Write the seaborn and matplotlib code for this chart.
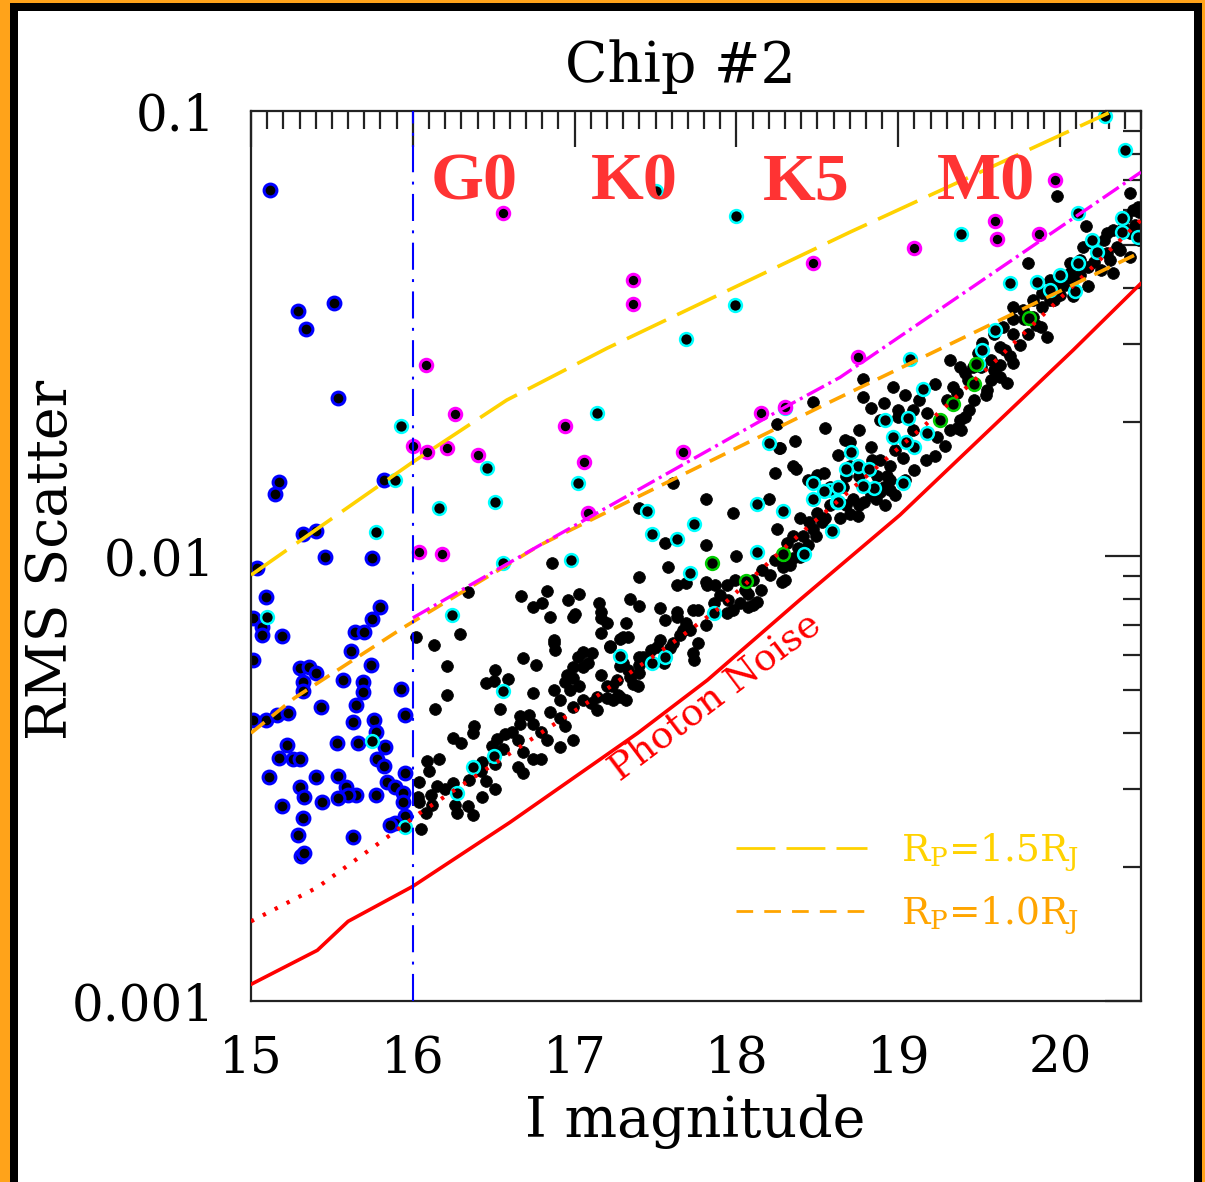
import numpy as np
import pandas as pd
import matplotlib
matplotlib.use("Agg")
import matplotlib.pyplot as plt
import seaborn as sns
from matplotlib.patches import Rectangle
from matplotlib.lines import Line2D
from matplotlib.ticker import FixedLocator, NullFormatter, LogLocator, MultipleLocator

# ---------------- data ----------------
# Blue points (bright stars, I < 16)
blue_mag = [15.12, 15.17, 15.15, 15.29, 15.34, 15.51, 15.54, 15.32, 15.40, 15.46, 15.75, 15.04, 15.09,
            15.01, 15.07, 15.07, 15.19, 15.80, 15.75, 15.64, 15.70, 15.62, 15.74, 15.01, 15.30, 15.36,
            15.40, 15.32, 15.32, 15.57, 15.69, 15.69, 15.93, 15.82, 15.01, 15.09, 15.16, 15.23, 15.43,
            15.65, 15.63, 15.76, 15.77, 15.95, 15.22, 15.53, 15.66, 15.83, 15.17, 15.26, 15.30, 15.78,
            15.82, 15.11, 15.40, 15.54, 15.59, 15.65, 15.60, 15.30, 15.33, 15.44, 15.54, 15.77, 15.84,
            15.89, 15.95, 15.94, 15.94, 15.19, 15.32, 15.95, 15.89, 15.86, 15.29, 15.63, 15.31, 15.33]
blue_rms = [0.0665, 0.0147, 0.0138, 0.0356, 0.0324, 0.0371, 0.0227, 0.0112, 0.0114, 0.00996, 0.00990,
            0.00942, 0.00809, 0.00726, 0.00694, 0.00665, 0.00662, 0.00768, 0.00723, 0.00676, 0.00676,
            0.00612, 0.00569, 0.00584, 0.00561, 0.00564, 0.00547, 0.00522, 0.00497, 0.00527, 0.00522,
            0.00495, 0.00502, 0.0148, 0.00429, 0.00429, 0.00440, 0.00444, 0.00458, 0.00462, 0.00423,
            0.00429, 0.00403, 0.00440, 0.00376, 0.00380, 0.00380, 0.00372, 0.00352, 0.00349, 0.00349,
            0.00349, 0.00337, 0.00318, 0.00318, 0.00320, 0.00302, 0.00290, 0.00290, 0.00302, 0.00288,
            0.00280, 0.00286, 0.00290, 0.00311, 0.00302, 0.00326, 0.00293, 0.00280, 0.00274, 0.00258,
            0.00261, 0.00251, 0.00249, 0.00236, 0.00234, 0.00212, 0.00215]

# Black points (I > 16)
black_mag = [16.34, 16.67, 16.74, 16.02, 16.13, 16.29, 16.68, 16.76, 16.21, 16.51, 16.59, 16.45, 16.50,
             16.74, 16.04, 16.03, 16.04, 16.05, 16.09, 16.16, 16.10, 16.15, 16.12, 16.25, 16.30, 16.37,
             16.38, 16.49, 16.52, 16.56, 16.43, 16.25, 16.26, 16.27, 16.34, 16.37, 16.43, 16.51, 16.45,
             16.54, 16.66, 16.74, 16.61, 16.65, 16.68, 16.74, 16.68, 16.65, 16.14, 16.21,
             18.47, 18.55, 18.25, 18.26, 18.36, 17.40, 17.81, 17.98, 17.61, 18.24, 18.37, 17.56, 17.81,
             16.86, 18.00, 18.20, 18.25, 18.39, 18.44, 18.50, 18.54, 18.58, 17.99, 17.94, 17.40, 17.58,
             17.63, 17.69, 17.81, 17.82, 17.87, 17.40, 17.34, 17.15, 17.16, 17.00, 16.96, 16.83, 16.80,
             17.03, 17.63, 17.67, 17.76, 17.74, 17.56, 17.53, 17.59, 17.94, 18.02, 18.07, 18.13, 17.22,
             17.28, 17.33, 17.30, 17.40, 17.05, 17.02, 16.88, 16.87, 16.99, 16.94, 17.16, 17.05, 17.23,
             17.27, 17.36,
             16.79, 16.85, 16.91, 16.94, 16.99, 17.05, 17.10, 17.14, 17.14, 17.20, 17.24, 17.28, 17.32,
             17.20, 17.26, 17.39, 17.34, 17.40, 17.42, 17.51, 17.55, 17.61, 17.65, 17.69, 17.73, 17.63,
             17.73, 17.86, 17.98, 18.07, 18.10, 16.99, 16.91, 16.83, 16.87, 16.99, 17.08, 17.11, 17.22,
             17.30, 16.87, 16.99, 16.85, 17.16, 17.20, 17.32, 16.95, 17.03, 17.16, 17.28, 16.79,
             19.98, 20.43, 20.16, 19.80, 18.97, 18.78, 19.23, 19.30, 19.34, 19.38, 19.49, 19.52, 19.59,
             19.65, 19.71, 19.77, 19.71, 19.83, 19.89, 19.94, 20.00, 20.06, 20.06, 20.12, 20.14, 20.20,
             20.27, 20.29, 20.33, 20.39, 20.41, 20.45, 20.48, 20.49, 20.43, 20.35, 20.29, 20.23, 20.17,
             20.08, 19.98, 19.96, 19.89, 19.83, 19.80, 19.71, 19.63, 19.57, 19.46, 19.43, 19.36, 19.92,
             19.88, 20.08, 20.17, 20.33, 20.43, 20.49,
             18.78, 18.91, 18.70, 18.83, 19.00, 19.09, 19.00, 19.24, 19.36, 19.41, 19.39, 19.18, 19.55,
             19.63, 19.71, 19.59, 19.32, 19.41, 19.51, 19.67, 19.69, 18.89, 18.93, 18.87, 18.95, 18.89,
             18.95, 18.79, 18.72, 18.68, 18.75, 18.58, 18.53, 18.47, 18.41, 18.35, 18.31, 18.39, 18.45,
             18.50, 18.55, 18.64, 18.35, 18.29, 18.30, 18.28, 18.95, 18.98, 19.03, 19.09, 18.84, 18.76,
             18.68, 18.66, 18.83, 18.91, 18.35, 18.27, 18.70,
             18.05, 18.10, 18.16, 18.21, 18.24, 18.33, 18.38, 18.44, 18.49, 18.15, 17.90, 17.95, 17.76,
             17.81, 17.71, 17.53, 17.47, 17.40, 17.33, 16.91, 16.97, 16.72, 16.66, 16.57, 16.51, 16.42,
             16.35, 16.20, 16.11, 16.08,
             18.70, 18.76, 18.86, 18.92, 18.98, 19.04, 19.10, 19.17, 19.23, 19.29, 19.32, 19.38, 19.44,
             19.47, 19.54, 19.57, 19.63, 19.66, 19.75, 19.78, 19.85, 19.94, 20.00, 20.03, 20.12, 20.21,
             20.25, 20.31, 20.37, 20.46,
             18.63, 18.67, 18.76, 18.89, 18.83, 19.04, 19.13]
black_rms = [0.00831, 0.00812, 0.00769, 0.00658, 0.00631, 0.00669, 0.00590, 0.00570, 0.00567, 0.00555,
             0.00530, 0.00518, 0.00524, 0.00491, 0.00311, 0.00287, 0.00280, 0.00243, 0.00347, 0.00349,
             0.00328, 0.00304, 0.00276, 0.00390, 0.00380, 0.00401, 0.00414, 0.00374, 0.00388, 0.00369,
             0.00345, 0.00309, 0.00276, 0.00264, 0.00274, 0.00262, 0.00288, 0.00299, 0.00312, 0.00453,
             0.00437, 0.00419, 0.00403, 0.00386, 0.00362, 0.00349, 0.00326, 0.00335, 0.00453, 0.00488,
             0.0222, 0.0194, 0.0198, 0.0175, 0.0181, 0.0128, 0.0134, 0.0125, 0.0146, 0.0154, 0.0157,
             0.0107, 0.0106, 0.00963, 0.0100, 0.0134, 0.0115, 0.00995, 0.0148, 0.0152, 0.0154, 0.0143,
             0.00885, 0.00859, 0.00895, 0.00946, 0.00859, 0.00871, 0.00876, 0.00859, 0.00859, 0.00772,
             0.00800, 0.00786, 0.00726, 0.00742, 0.00796, 0.00836, 0.00786, 0.00822, 0.00730, 0.00683,
             0.00638, 0.00584, 0.00719, 0.00764, 0.00621, 0.00746, 0.00786, 0.00822, 0.00790, 0.00627,
             0.00651, 0.00658, 0.00576, 0.00593, 0.00609, 0.00593, 0.00615, 0.00648, 0.00533, 0.00522,
             0.00672, 0.00564, 0.00510, 0.00487, 0.00516,
             0.00403, 0.00446, 0.00433, 0.00414, 0.00458, 0.00475, 0.00467, 0.00451, 0.00483, 0.00480,
             0.00475, 0.00483, 0.00475, 0.00510, 0.00527, 0.00510, 0.00536, 0.00547, 0.00593, 0.00625,
             0.00576, 0.00636, 0.00665, 0.00708, 0.00606, 0.00750, 0.00757, 0.00786, 0.00757, 0.00768,
             0.00775, 0.00386, 0.00372, 0.00386, 0.00500, 0.00564, 0.00576, 0.00606, 0.00625, 0.00658,
             0.00638, 0.00730, 0.00730, 0.00750, 0.00708, 0.00708, 0.00539, 0.00510, 0.00539, 0.00567,
             0.00349,
             0.0644, 0.0654, 0.0551, 0.0456, 0.0240, 0.0250, 0.0243, 0.0224, 0.0240, 0.0266, 0.0286,
             0.0301, 0.0316, 0.0327, 0.0340, 0.0357, 0.0363, 0.0376, 0.0390, 0.0418, 0.0424, 0.0433,
             0.0456, 0.0463, 0.0495, 0.0505, 0.0513, 0.0532, 0.0541, 0.0549, 0.0578, 0.0600, 0.0609,
             0.0592, 0.0532, 0.0495, 0.0480, 0.0487, 0.0447, 0.0418, 0.0405, 0.0376, 0.0363, 0.0344,
             0.0316, 0.0316, 0.0295, 0.0276, 0.0266, 0.0249, 0.0232, 0.0311, 0.0327, 0.0384, 0.0405,
             0.0433, 0.0470, 0.0513,
             0.0228, 0.0221, 0.0180, 0.0176, 0.0213, 0.0213, 0.0205, 0.0185, 0.0194, 0.0205, 0.0192,
             0.0210, 0.0236, 0.0253, 0.0272, 0.0262, 0.0276, 0.0258, 0.0266, 0.0245, 0.0282, 0.0164,
             0.0151, 0.0151, 0.0159, 0.0139, 0.0141, 0.0132, 0.0134, 0.0130, 0.0123, 0.0130, 0.0119,
             0.0115, 0.0111, 0.0111, 0.0107, 0.0122, 0.0119, 0.0125, 0.0122, 0.0122, 0.00991, 0.00944,
             0.00885, 0.00875, 0.0148, 0.0173, 0.0166, 0.0192, 0.0164, 0.0151, 0.0151, 0.0143, 0.0137,
             0.0143, 0.0159, 0.0175, 0.0159,
             0.00840, 0.00885, 0.00932, 0.00908, 0.00981, 0.00956, 0.0104, 0.0106, 0.0111, 0.00840,
             0.00817, 0.00796, 0.00757, 0.00701, 0.00683, 0.00648, 0.00615, 0.00570, 0.00555, 0.00475,
             0.00500, 0.00440, 0.00419, 0.00398, 0.00340, 0.00328, 0.00314, 0.00299, 0.00290, 0.00264,
             0.0124, 0.0130, 0.0134, 0.0130, 0.0137, 0.0148, 0.0156, 0.0164, 0.0168, 0.0177, 0.0192,
             0.0202, 0.0213, 0.0224, 0.0230, 0.0249, 0.0268, 0.0290, 0.0298, 0.0340, 0.0331, 0.0376,
             0.0386, 0.0406, 0.0428, 0.0458, 0.0440, 0.0463, 0.0487, 0.0555,
             0.0169, 0.0182, 0.0192, 0.0202, 0.0215, 0.0230, 0.0224]

# Cyan-ringed points
cyan_mag = [15.93, 15.89, 15.77, 15.10, 15.75, 15.95, 16.46, 16.16, 16.51, 16.56, 16.24, 16.56, 16.37,
            16.50, 16.27, 17.50, 18.00, 17.99, 17.69, 17.14, 17.02, 17.45, 17.74, 17.63, 17.48, 16.98,
            17.71, 18.13, 18.29, 18.13, 18.42, 18.30, 18.20, 18.47, 18.58, 18.62, 18.59, 17.86, 17.28,
            17.56, 17.48, 19.15, 19.06, 18.92, 19.18, 19.10, 19.05, 18.97, 18.71, 18.75, 18.82, 18.68,
            18.85, 18.78, 18.63, 18.54, 18.47, 18.63, 19.03, 20.28, 20.40, 19.39, 20.11, 19.60, 19.69,
            19.07, 20.38, 20.38, 20.48, 20.23, 20.20, 20.11, 20.00, 19.94, 20.09, 19.86, 19.52, 19.49]
cyan_rms = [0.0196, 0.0148, 0.0113, 0.00731, 0.00384, 0.00246, 0.0158, 0.0128, 0.0132, 0.00966, 0.00738,
            0.00497, 0.00335, 0.00356, 0.00293, 0.0661, 0.0581, 0.0367, 0.0308, 0.0210, 0.0146, 0.0126,
            0.0118, 0.0109, 0.0112, 0.00980, 0.00915, 0.0131, 0.0126, 0.0102, 0.0101, 0.0215, 0.0179,
            0.0146, 0.0141, 0.0132, 0.0114, 0.00746, 0.00596, 0.00593, 0.00576, 0.0237, 0.0204, 0.0202,
            0.0189, 0.0176, 0.0180, 0.0185, 0.0171, 0.0159, 0.0157, 0.0157, 0.0142, 0.0144, 0.0143,
            0.0140, 0.0134, 0.0132, 0.0146, 0.0975, 0.0817, 0.0530, 0.0590, 0.0322, 0.0410, 0.0277,
            0.0575, 0.0535, 0.0522, 0.0482, 0.0513, 0.0456, 0.0429, 0.0397, 0.0393, 0.0413, 0.0290, 0.0270]

# Magenta-ringed points
magenta_mag = [16.00, 16.09, 16.21, 16.26, 16.40, 16.04, 16.18, 16.56, 17.36, 17.36, 18.47, 16.94, 17.06,
               17.67, 18.15, 17.08, 19.97, 19.60, 19.61, 19.10, 19.87, 18.75, 18.30, 16.08]
magenta_rms = [0.0177, 0.0171, 0.0175, 0.0208, 0.0169, 0.0102, 0.0101, 0.0590, 0.0418, 0.0369, 0.0455,
               0.0196, 0.0163, 0.0171, 0.0210, 0.0125, 0.0700, 0.0566, 0.0515, 0.0491, 0.0530, 0.0280,
               0.0216, 0.0268]

# Green-ringed points
green_mag = [17.85, 18.29, 18.06, 19.48, 19.47, 19.34, 19.26, 19.81]
green_rms = [0.00962, 0.0101, 0.00877, 0.0270, 0.0243, 0.0220, 0.0202, 0.0342]

# Curves
noise_mag = [15.0, 15.41, 15.60, 16.0, 16.6, 17.39, 17.82, 18.39, 19.01, 20.08, 20.5]
noise_rms = [0.00109, 0.00130, 0.00151, 0.00181, 0.00252, 0.0040, 0.00526, 0.00796, 0.01236, 0.0290, 0.0410]
dotted_mag = [15.0, 15.41, 15.86, 16.04, 16.79, 17.10, 17.61, 17.90, 18.33, 19.20, 19.59, 20.5]
dotted_rms = [0.00151, 0.00180, 0.00236, 0.00264, 0.0040, 0.00474, 0.0064, 0.00767, 0.0107, 0.0202, 0.0272, 0.0569]
rp15_mag = [15.0, 16.0, 16.58, 17.2, 18.70, 20.30]
rp15_rms = [0.00906, 0.01626, 0.0224, 0.0293, 0.0534, 0.099]
rp10_mag = [15.0, 15.27, 15.94, 16.79, 18.58, 20.5]
rp10_rms = [0.0040, 0.0048, 0.0069, 0.0106, 0.0222, 0.0482]
dashdot_mag = [16.0, 16.79, 18.27, 18.64, 20.5]
dashdot_rms = [0.00726, 0.0106, 0.0213, 0.0252, 0.0729]
cut_mag = 16.0

spec_types = ["G0", "K0", "K5", "M0"]
spec_mag = [16.38, 17.37, 18.43, 19.54]
spec_rms = 0.0631

ytick_vals = [0.001, 0.01, 0.1]
ytick_labels = ["0.001", "0.01", "0.1"]
xtick_vals = [15, 16, 17, 18, 19, 20]
legend_labels = [r"R$_\mathrm{P}$=1.5R$_\mathrm{J}$", r"R$_\mathrm{P}$=1.0R$_\mathrm{J}$"]

# ---------------- style ----------------
sns.set_style("white")
plt.rcParams["font.family"] = ["DejaVu Serif"]
plt.rcParams["mathtext.fontset"] = "dejavuserif"
plt.rcParams["text.color"] = "black"
plt.rcParams["xtick.color"] = "black"
plt.rcParams["ytick.color"] = "black"
plt.rcParams["axes.labelcolor"] = "black"

W, H = 1205, 1182
fig = plt.figure(figsize=(W / 100, H / 100), dpi=100, facecolor="#FFA31A")
fig.add_artist(Rectangle((10 / W, 0), (1202 - 10) / W, (H - 3) / H, transform=fig.transFigure,
                         facecolor="black", edgecolor="none", zorder=-3))
fig.add_artist(Rectangle((18 / W, 0), (1194 - 18) / W, (H - 11) / H, transform=fig.transFigure,
                         facecolor="white", edgecolor="none", zorder=-2))

ax = fig.add_axes([251 / W, (H - 1001) / H, 890 / W, 890 / H])
ax.set_facecolor("white")

# points
df_black = pd.DataFrame({"mag": black_mag, "rms": black_rms})
df_blue = pd.DataFrame({"mag": blue_mag, "rms": blue_rms})
df_cyan = pd.DataFrame({"mag": cyan_mag, "rms": cyan_rms})
df_mag = pd.DataFrame({"mag": magenta_mag, "rms": magenta_rms})
df_green = pd.DataFrame({"mag": green_mag, "rms": green_rms})

sns.scatterplot(data=df_black, x="mag", y="rms", ax=ax, color="black", edgecolor="black",
                linewidth=0.5, s=72, marker="o", legend=False, zorder=1)
sns.scatterplot(data=df_blue, x="mag", y="rms", ax=ax, color="black", edgecolor="#0000FF",
                linewidth=2.2, s=85, marker="o", legend=False, zorder=1.1)
sns.scatterplot(data=df_cyan, x="mag", y="rms", ax=ax, color="black", edgecolor="#00FFFF",
                linewidth=1.8, s=85, marker="o", legend=False, zorder=1.2)
sns.scatterplot(data=df_mag, x="mag", y="rms", ax=ax, color="black", edgecolor="#FF00FF",
                linewidth=2.2, s=80, marker="o", legend=False, zorder=1.2)
sns.scatterplot(data=df_green, x="mag", y="rms", ax=ax, color="black", edgecolor="#00CC00",
                linewidth=1.8, s=85, marker="o", legend=False, zorder=1.2)

# curves
sns.lineplot(x=noise_mag, y=noise_rms, ax=ax, color="#FF0000", linewidth=2.6, sort=False,
             estimator=None, zorder=3)
sns.lineplot(x=dotted_mag, y=dotted_rms, ax=ax, color="#FF0000", linewidth=3.0,
             linestyle=(0, (0.8, 2.4)), sort=False, estimator=None, zorder=3)
sns.lineplot(x=rp15_mag, y=rp15_rms, ax=ax, color="#FFD200", linewidth=2.6,
             linestyle=(0, (12, 3.4)), sort=False, estimator=None, zorder=3)
sns.lineplot(x=rp10_mag, y=rp10_rms, ax=ax, color="#FFA500", linewidth=2.6,
             linestyle=(0, (4.8, 2.6)), sort=False, estimator=None, zorder=3)
sns.lineplot(x=dashdot_mag, y=dashdot_rms, ax=ax, color="#FF00FF", linewidth=2.4,
             linestyle=(0, (5.8, 1.5, 0.9, 1.5)), sort=False, estimator=None, zorder=3.1)
ax.axvline(cut_mag, color="#0000FF", linewidth=1.5, linestyle=(0, (13, 4.5, 1.4, 4.5)), zorder=3)

# annotations
for name, m in zip(spec_types, spec_mag):
    ax.text(m, spec_rms, name, color="#FF3333", fontsize=49, fontweight="bold",
            family=["Liberation Serif", "DejaVu Serif"], ha="center", va="baseline", zorder=4)
ax.text(17.87, 0.00482, "Photon Noise", color="#FF0000", fontsize=27, rotation=37,
        rotation_mode="anchor", ha="center", va="center", zorder=4)

# legend
h1 = Line2D([], [], color="#FFD200", linewidth=2.0, linestyle=(0, (14, 4)))
h2 = Line2D([], [], color="#FFA500", linewidth=2.0, linestyle=(0, (6, 4)))
leg = ax.legend([h1, h2], legend_labels, loc="upper left", bbox_to_anchor=(0.545, 0.19),
                frameon=False, fontsize=27, handlelength=3.5, handletextpad=0.9,
                labelspacing=0.55, borderpad=0, borderaxespad=0, labelcolor="linecolor")

# axes
ax.set_xscale("linear")
ax.set_yscale("log")
ax.set_xlim(15, 20.5)
ax.set_ylim(0.001, 0.1)
ax.yaxis.set_major_locator(FixedLocator(ytick_vals))
ax.set_yticklabels(ytick_labels)
ax.yaxis.set_minor_locator(LogLocator(base=10, subs=np.arange(2, 10)))
ax.yaxis.set_minor_formatter(NullFormatter())
ax.xaxis.set_major_locator(FixedLocator(xtick_vals))
ax.set_xticklabels([str(v) for v in xtick_vals])
ax.xaxis.set_minor_locator(MultipleLocator(0.1))
ax.tick_params(which="both", direction="in", top=True, right=True, color="#222222", width=1.6,
               labelcolor="black")
ax.tick_params(which="major", length=26, labelsize=36)
ax.tick_params(which="minor", length=13)
ax.tick_params(axis="y", which="major", pad=26)
ax.tick_params(axis="x", which="major", pad=24)
for sp in ax.spines.values():
    sp.set_color("#222222")
    sp.set_linewidth(1.6)
ax.set_xlabel("")
ax.set_ylabel("")

fig.text(680 / W, (H - 82) / H, "Chip #2", fontsize=40, ha="center", va="baseline", color="black")
fig.text(695 / W, (H - 1137) / H, "I magnitude", fontsize=40, ha="center", va="baseline", color="black")
fig.text(52 / W, (H - 560) / H, "RMS Scatter", fontsize=40, ha="center", va="center", rotation=90,
         color="black")

fig.savefig("out.png", dpi=100, facecolor=fig.get_facecolor())
